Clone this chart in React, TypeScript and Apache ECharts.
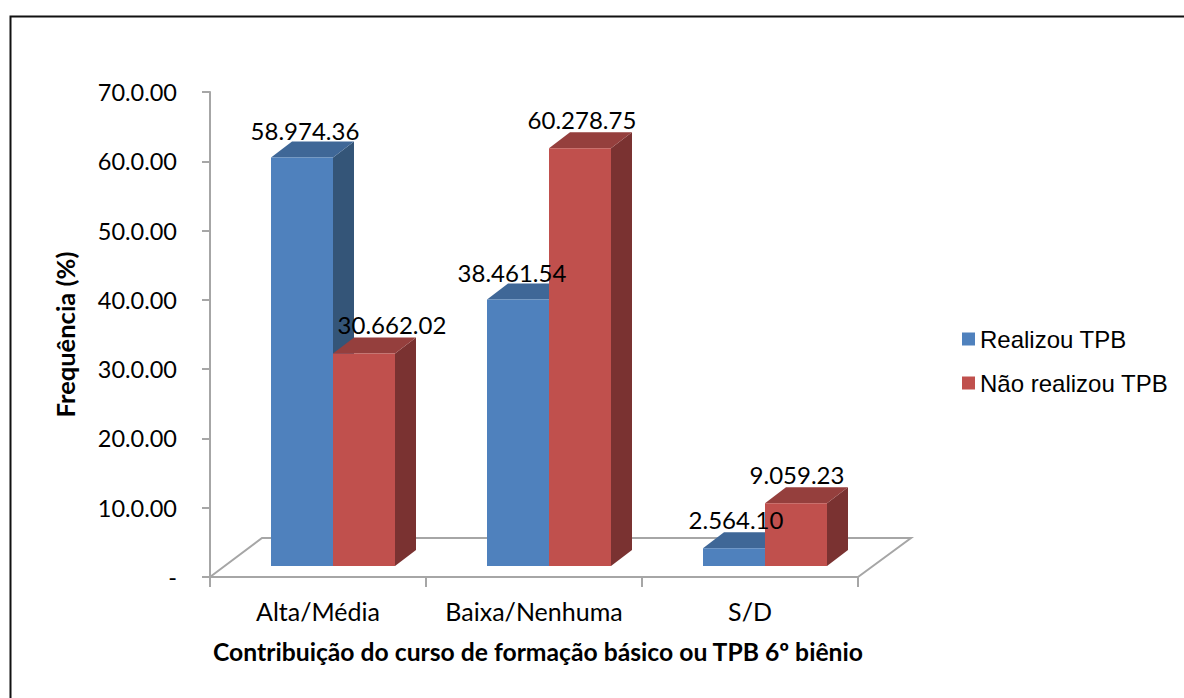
import React, { useEffect, useRef } from "react";
import * as echarts from "echarts";

const categories = ["Alta/Média", "Baixa/Nenhuma", "S/D"];
const realizou = [58.97436, 38.46154, 2.5641];
const naoRealizou = [30.66202, 60.27875, 9.05923];
const realizouLabels = ["58.974.36", "38.461.54", "2.564.10"];
const naoRealizouLabels = ["30.662.02", "60.278.75", "9.059.23"];
const tickLabels = ["-", "10.0.00", "20.0.00", "30.0.00", "40.0.00", "50.0.00", "60.0.00", "70.0.00"];

const realizouNudge = [[3, -1], [-6, -1], [2, -3]];
const naoRealizouNudge = [[28, -3], [2, -3], [1, -3]];

const AXIS = "#a6a6a6";
const SANS = "Lato";
const BAR_W = 62;
const DX = 21;
const DY = -16;
const FRONT_X = 15;
const FRONT_Y = -11;

function barSeries(
  name: string,
  values: number[],
  labels: string[],
  nudges: number[][],
  side: -1 | 0,
  front: string,
  top: string,
  right: string
) {
  return {
    name,
    type: "custom",
    coordinateSystem: "cartesian2d",
    clip: false,
    itemStyle: { color: front },
    encode: { x: 0, y: 1 },
    data: values.map((v, i) => [i, v]),
    renderItem: (params: any, api: any) => {
      const c = api.coord([api.value(0), api.value(1)]);
      const b = api.coord([api.value(0), 0]);
      const x0 = c[0] + FRONT_X + side * BAR_W;
      const x1 = x0 + BAR_W;
      const yT = c[1] + FRONT_Y;
      const yB = b[1] + FRONT_Y;
      const poly = (points: number[][], fill: string) => ({
        type: "polygon",
        shape: { points },
        style: { fill, stroke: null },
      });
      const nudge = nudges[params.dataIndex];
      return {
        type: "group",
        children: [
          poly([[x1, yT], [x1 + DX, yT + DY], [x1 + DX, yB + DY], [x1, yB]], right),
          poly([[x0, yT], [x0 + DX, yT + DY], [x1 + DX, yT + DY], [x1, yT]], top),
          poly([[x0, yT], [x1, yT], [x1, yB], [x0, yB]], front),
          {
            type: "text",
            z2: 100,
            style: {
              x: (x0 + x1) / 2 + nudge[0],
              y: yT - 26 + nudge[1],
              text: labels[params.dataIndex],
              fill: "#000",
              font: `24px ${SANS}`,
              align: "center",
              verticalAlign: "middle",
            },
          },
        ],
      };
    },
  };
}

export default function App() {
  const ref = useRef<HTMLDivElement>(null);
  useEffect(() => {
    document.body.style.margin = "0";
    const chart = echarts.init(ref.current!, undefined, { renderer: "svg" });
    chart.setOption({
      animation: false,
      backgroundColor: "#fff",
      graphic: [
        {
          type: "polyline",
          shape: { points: [[10.5, 698], [10.5, 16.5], [1184, 16.5]] },
          style: { stroke: "#111", lineWidth: 2, fill: null },
        },
      ],
      grid: { left: 210, top: 92, width: 648, height: 485 },
      legend: {
        orient: "vertical",
        left: 957,
        top: 322,
        itemWidth: 13,
        itemHeight: 13,
        itemGap: 20,
        icon: "rect",
        data: ["Realizou TPB", "Não realizou TPB"],
        textStyle: { fontFamily: "Liberation Sans", fontSize: 24, color: "#000", padding: [0, 0, 0, 0] },
      },
      xAxis: {
        type: "category",
        data: categories,
        axisLine: { lineStyle: { color: AXIS, width: 2 } },
        axisTick: { show: true, interval: 0, length: 10, lineStyle: { color: AXIS, width: 2 } },
        axisLabel: { color: "#000", fontFamily: SANS, fontSize: 25, margin: 21, interval: 0 },
        name: "Contribuição do curso de formação básico ou TPB 6º biênio",
        nameLocation: "middle",
        nameGap: 62,
        nameTextStyle: { color: "#000", fontFamily: SANS, fontWeight: "bold", fontSize: 24.7, padding: [0, 0, 0, 8] },
      },
      yAxis: {
        type: "value",
        min: 0,
        max: 70,
        interval: 10,
        splitLine: { show: false },
        axisLine: { show: true, lineStyle: { color: AXIS, width: 2 } },
        axisTick: { show: true, length: 8, lineStyle: { color: AXIS, width: 2 } },
        axisLabel: {
          color: "#000",
          fontFamily: SANS,
          fontSize: 23.5,
          margin: 33,
          formatter: (_v: number, i: number) => tickLabels[i],
        },
        name: "Frequência (%)",
        nameLocation: "middle",
        nameGap: 132,
        nameRotate: 90,
        nameTextStyle: { color: "#000", fontFamily: SANS, fontWeight: "bold", fontSize: 25.5 },
      },
      series: [
        {
          type: "custom",
          coordinateSystem: "cartesian2d",
          clip: false,
          silent: true,
          encode: { x: 0, y: 1 },
          data: [[0, 0]],
          renderItem: (params: any) => {
            const { x, y, width, height } = params.coordSys;
            const yF = y + height;
            return {
              type: "polyline",
              shape: {
                points: [
                  [x, yF],
                  [x + 52, yF - 39],
                  [x + width + 53, yF - 39],
                  [x + width, yF],
                ],
              },
              style: { stroke: AXIS, lineWidth: 2, fill: null },
            };
          },
        },
        barSeries("Realizou TPB", realizou, realizouLabels, realizouNudge, -1, "#4f81bd", "#3f6797", "#345578"),
        barSeries("Não realizou TPB", naoRealizou, naoRealizouLabels, naoRealizouNudge, 0, "#c0504d", "#953f3d", "#7a3231"),
      ],
    });
    return () => chart.dispose();
  }, []);
  return <div ref={ref} style={{ width: 1184, height: 698 }} />;
}
